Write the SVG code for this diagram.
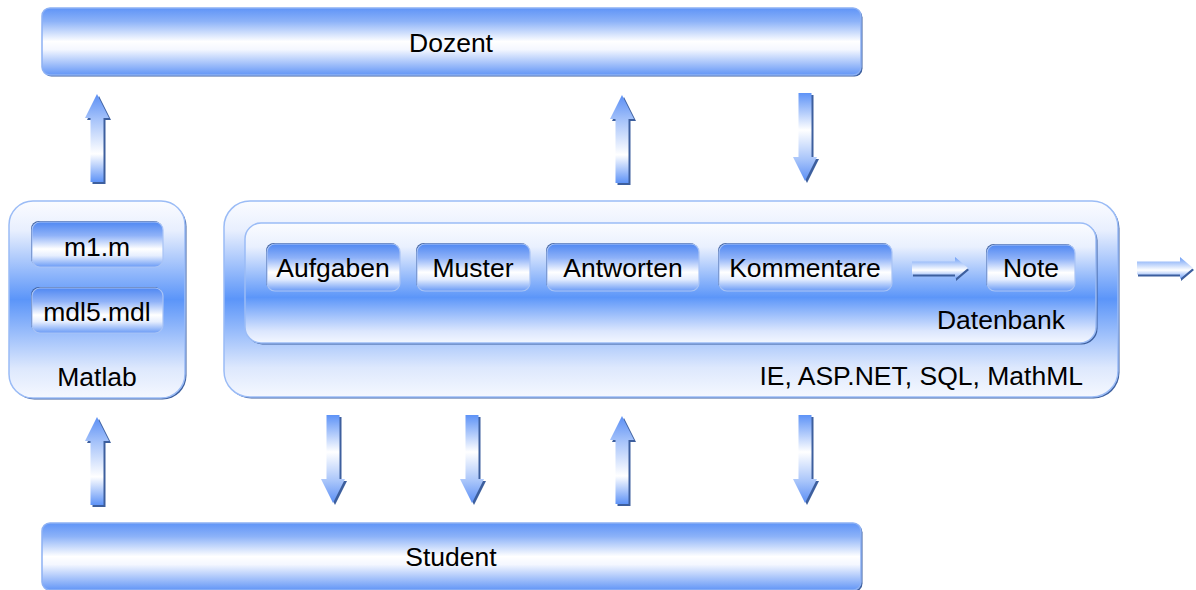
<svg xmlns="http://www.w3.org/2000/svg" xmlns:xlink="http://www.w3.org/1999/xlink" width="1196" height="590" viewBox="0 0 1196 590">
<style>
text{font-family:"Liberation Sans",Arial,sans-serif;font-size:26.5px;fill:#000}
.mid{text-anchor:middle}
.end{text-anchor:end}
.shadow{fill:#3d5f9e}
.bar{fill:url(#gBar);stroke:#8db1f4;stroke-width:1.5}
.big{fill:url(#gBig);stroke:#9bbcf6;stroke-width:1.5}
.inner{fill:url(#gInner);stroke:#9bbcf6;stroke-width:1.5}
.item{fill:url(#gItem);stroke:#a9c4f6;stroke-width:1.2}
.itemsh{fill:#3d5f9e}
.aup{fill:url(#gUp)}
.adown{fill:url(#gDown)}
.aright{fill:url(#gRight)}
</style>
<defs>
<linearGradient id="gBar" x1="0" y1="0" x2="0" y2="1">
<stop offset="0" stop-color="#5f94f7"/>
<stop offset="0.2" stop-color="#8cb2f8"/>
<stop offset="0.5" stop-color="#ffffff"/>
<stop offset="0.62" stop-color="#f4f7ff"/>
<stop offset="1" stop-color="#6396f6"/>
</linearGradient>
<linearGradient id="gBig" x1="0" y1="0" x2="0" y2="1">
<stop offset="0" stop-color="#fbfcff"/>
<stop offset="0.15" stop-color="#e8effe"/>
<stop offset="0.5" stop-color="#5b95f9"/>
<stop offset="0.85" stop-color="#dde8fd"/>
<stop offset="1" stop-color="#f5f8ff"/>
</linearGradient>
<linearGradient id="gInner" x1="0" y1="0" x2="0" y2="1">
<stop offset="0" stop-color="#fbfcff"/>
<stop offset="0.2" stop-color="#e9f0fe"/>
<stop offset="0.62" stop-color="#5c96f9"/>
<stop offset="0.9" stop-color="#dbe6fd"/>
<stop offset="1" stop-color="#f3f7ff"/>
</linearGradient>
<linearGradient id="gItem" x1="0" y1="0" x2="0" y2="1">
<stop offset="0" stop-color="#5088f2"/>
<stop offset="0.3" stop-color="#8fb2f8"/>
<stop offset="0.6" stop-color="#ffffff"/>
<stop offset="0.75" stop-color="#e6eefe"/>
<stop offset="1" stop-color="#6a9bf6"/>
</linearGradient>
<linearGradient id="gUp" x1="0" y1="0" x2="0" y2="1">
<stop offset="0" stop-color="#5b8ff5"/>
<stop offset="0.3" stop-color="#a9c5fa"/>
<stop offset="0.68" stop-color="#ffffff"/>
<stop offset="1" stop-color="#5e93f7"/>
</linearGradient>
<linearGradient id="gDown" x1="0" y1="0" x2="0" y2="1">
<stop offset="0" stop-color="#5e93f7"/>
<stop offset="0.42" stop-color="#ffffff"/>
<stop offset="0.75" stop-color="#a9c5fa"/>
<stop offset="1" stop-color="#5b8ff5"/>
</linearGradient>
<linearGradient id="gRight" x1="0" y1="0" x2="0" y2="1">
<stop offset="0" stop-color="#6b9cf6"/>
<stop offset="0.6" stop-color="#ffffff"/>
<stop offset="1" stop-color="#6b9cf6"/>
</linearGradient>
<path id="up" d="M0 0 L12 24 L6.5 24 L6.5 88 L-6.5 88 L-6.5 24 L-12 24 Z"/>
<path id="down" d="M-6.5 0 L6.5 0 L6.5 64 L12 64 L0 88 L-12 64 L-6.5 64 Z"/>
<path id="right" d="M0 -6.5 L43 -6.5 L43 -11 L56 0 L43 11 L43 6.5 L0 6.5 Z"/>
</defs>

<g id="dozent">
<rect class="shadow" x="43.5" y="9.5" width="819" height="67" rx="8"/>
<rect class="bar" x="42" y="8" width="819" height="67" rx="8"/>
<text class="mid" x="451" y="52">Dozent</text>
</g>

<g id="student">
<rect class="shadow" x="43.5" y="524.5" width="819" height="67" rx="8"/>
<rect class="bar" x="42" y="523" width="819" height="67" rx="8"/>
<text class="mid" x="451" y="566">Student</text>
</g>

<g id="matlab">
<rect class="shadow" x="10.5" y="202.5" width="176" height="197" rx="24"/>
<rect class="big" x="9" y="201" width="176" height="197" rx="24"/>
<text class="mid" x="97" y="386">Matlab</text>
</g>
<g id="m1m">
<rect class="itemsh" x="31" y="221" width="131" height="45" rx="8"/>
<rect class="item" x="32" y="222" width="131" height="45" rx="8"/>
<text class="mid" x="97" y="256">m1.m</text>
</g>
<g id="mdl5">
<rect class="itemsh" x="31" y="287" width="131" height="45" rx="8"/>
<rect class="item" x="32" y="288" width="131" height="45" rx="8"/>
<text class="mid" x="97" y="321">mdl5.mdl</text>
</g>

<g id="web">
<rect class="shadow" x="225.5" y="202.5" width="894" height="196" rx="26"/>
<rect class="big" x="224" y="201" width="894" height="196" rx="26"/>
<text class="end" x="1083" y="385">IE, ASP.NET, SQL, MathML</text>
</g>
<g id="datenbank">
<rect class="shadow" x="246.5" y="224.5" width="851" height="120" rx="16"/>
<rect class="inner" x="245" y="223" width="851" height="120" rx="16"/>
<text class="mid" x="1001" y="329">Datenbank</text>
</g>
<g id="aufgaben">
<rect class="itemsh" x="266" y="243" width="133" height="47" rx="8"/>
<rect class="item" x="267" y="244" width="133" height="47" rx="8"/>
<text class="mid" x="333" y="277">Aufgaben</text>
</g>
<g id="muster">
<rect class="itemsh" x="416" y="243" width="113" height="47" rx="8"/>
<rect class="item" x="417" y="244" width="113" height="47" rx="8"/>
<text class="mid" x="473" y="277">Muster</text>
</g>
<g id="antworten">
<rect class="itemsh" x="546" y="243" width="152" height="47" rx="8"/>
<rect class="item" x="547" y="244" width="152" height="47" rx="8"/>
<text class="mid" x="623" y="277">Antworten</text>
</g>
<g id="kommentare">
<rect class="itemsh" x="718" y="243" width="173" height="47" rx="8"/>
<rect class="item" x="719" y="244" width="173" height="47" rx="8"/>
<text class="mid" x="805" y="277">Kommentare</text>
</g>
<g id="note">
<rect class="itemsh" x="986" y="244" width="88" height="46" rx="8"/>
<rect class="item" x="987" y="245" width="88" height="46" rx="8"/>
<text class="mid" x="1031" y="277">Note</text>
</g>

<g id="connectors">
<use href="#up" class="shadow" x="99" y="96"/>
<use href="#up" class="aup" x="97" y="94"/>
<use href="#up" class="shadow" x="624" y="97"/>
<use href="#up" class="aup" x="622" y="95"/>
<use href="#down" class="shadow" x="807" y="95"/>
<use href="#down" class="adown" x="805" y="93"/>

<use href="#up" class="shadow" x="99" y="419"/>
<use href="#up" class="aup" x="97" y="417"/>
<use href="#down" class="shadow" x="335" y="417"/>
<use href="#down" class="adown" x="333" y="415"/>
<use href="#down" class="shadow" x="474" y="417"/>
<use href="#down" class="adown" x="472" y="415"/>
<use href="#up" class="shadow" x="624" y="418"/>
<use href="#up" class="aup" x="622" y="416"/>
<use href="#down" class="shadow" x="807" y="417"/>
<use href="#down" class="adown" x="805" y="415"/>

<use href="#right" class="shadow" x="913" y="270"/>
<use href="#right" class="aright" x="912" y="268"/>
<use href="#right" class="shadow" x="1138" y="270"/>
<use href="#right" class="aright" x="1137" y="268"/>
</g>
</svg>
